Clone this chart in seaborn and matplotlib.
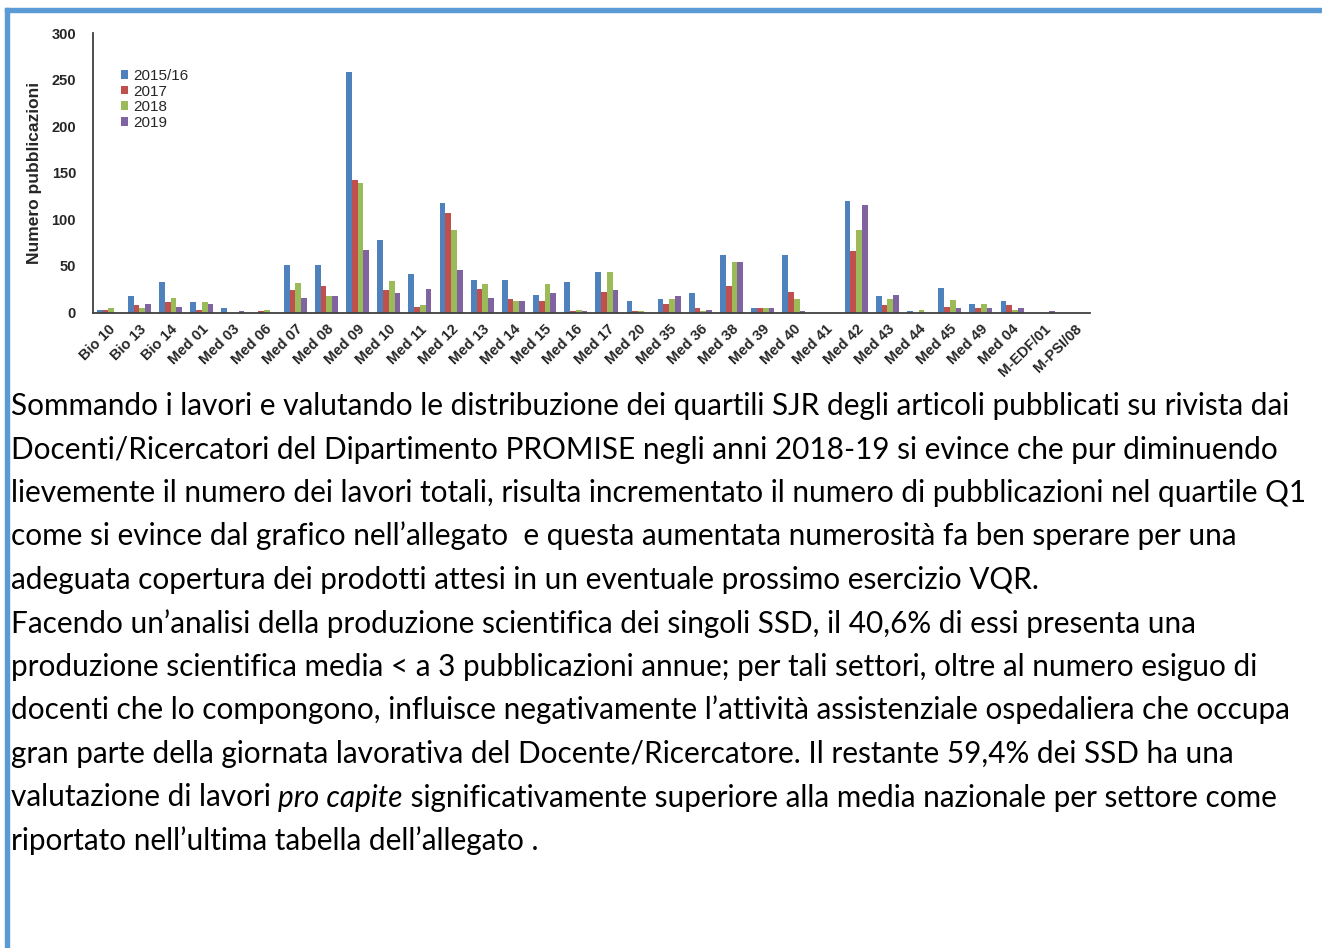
import matplotlib
matplotlib.use("Agg")
import matplotlib.pyplot as plt
from matplotlib.patches import Rectangle
import seaborn as sns
import pandas as pd

categories = ["Bio 10", "Bio 13", "Bio 14", "Med 01", "Med 03", "Med 06", "Med 07", "Med 08",
              "Med 09", "Med 10", "Med 11", "Med 12", "Med 13", "Med 14", "Med 15", "Med 16",
              "Med 17", "Med 20", "Med 35", "Med 36", "Med 38", "Med 39", "Med 40", "Med 41",
              "Med 42", "Med 43", "Med 44", "Med 45", "Med 49", "Med 04", "M-EDF/01", "M-PSI/08"]
years = ["2015/16", "2017", "2018", "2019"]
v2015 = [3, 18, 33, 11, 5, 0, 51, 51, 258, 78, 41, 118, 35, 35, 19, 33,
         44, 12, 14, 21, 62, 5, 62, 0, 120, 18, 2, 26, 9, 12, 0, 0]
v2017 = [3, 8, 11, 3, 0, 2, 24, 28, 142, 24, 6, 107, 25, 14, 12, 2,
         22, 2, 9, 5, 28, 5, 22, 0, 66, 8, 0, 6, 5, 8, 0, 0]
v2018 = [5, 5, 16, 11, 0, 3, 32, 18, 139, 34, 8, 89, 31, 12, 31, 3,
         44, 2, 15, 2, 54, 5, 15, 0, 89, 15, 3, 13, 9, 3, 0, 0]
v2019 = [0, 9, 6, 9, 2, 0, 16, 18, 67, 21, 25, 46, 16, 12, 21, 2,
         24, 0, 18, 3, 54, 5, 2, 0, 115, 19, 0, 5, 5, 5, 2, 0]
yticks = [0, 50, 100, 150, 200, 250, 300]
ylabel = "Numero pubblicazioni"

paragraph = [
    "Sommando i lavori e valutando le distribuzione dei quartili SJR degli articoli pubblicati su rivista dai",
    "Docenti/Ricercatori del Dipartimento PROMISE negli anni 2018-19 si evince che pur diminuendo",
    "lievemente il numero dei lavori totali, risulta incrementato il numero di pubblicazioni nel quartile Q1",
    "come si evince dal grafico nell\u2019allegato  e questa aumentata numerosit\u00e0 fa ben sperare per una",
    "adeguata copertura dei prodotti attesi in un eventuale prossimo esercizio VQR.",
    "Facendo un\u2019analisi della produzione scientifica dei singoli SSD, il 40,6% di essi presenta una",
    "produzione scientifica media < a 3 pubblicazioni annue; per tali settori, oltre al numero esiguo di",
    "docenti che lo compongono, influisce negativamente l\u2019attivit\u00e0 assistenziale ospedaliera che occupa",
    "gran parte della giornata lavorativa del Docente/Ricercatore. Il restante 59,4% dei SSD ha una",
    None,
    "riportato nell\u2019ultima tabella dell\u2019allegato .",
]
line10 = ["valutazione di lavori ", "pro capite",
          " significativamente superiore alla media nazionale per settore come"]

colors = ["#4F81BD", "#C0504D", "#9BBB59", "#8064A2"]

sns.set_style("white")
plt.rcParams["font.family"] = ["Liberation Sans", "DejaVu Sans"]

W, H = 1322, 948
fig = plt.figure(figsize=(W / 100, H / 100), dpi=100)

rows = []
for yr, vals in zip(years, [v2015, v2017, v2018, v2019]):
    for c, v in zip(categories, vals):
        rows.append({"ssd": c, "n": v, "anno": yr})
df = pd.DataFrame(rows)

ax = fig.add_axes([92.7 / W, 1 - 312.5 / H, (1090 - 92.7) / W, (312.5 - 33.3) / H])
sns.barplot(data=df, x="ssd", y="n", hue="anno", palette=colors, width=0.74,
            order=categories, hue_order=years, ax=ax, saturation=1, linewidth=0)

ax.set_xlim(-0.5, len(categories) - 0.5)
ax.set_ylim(0, 300)
ax.set_yticks(yticks)
ax.set_yticklabels([str(t) for t in yticks], fontsize=10.5, fontweight="bold")
ax.set_xticks(range(len(categories)))
ax.set_xticklabels(categories, rotation=45, ha="right", rotation_mode="anchor",
                   fontsize=10.5, fontweight="bold")
ax.set_xticks([i - 0.5 for i in range(len(categories) + 1)], minor=True)
ax.tick_params(axis="x", which="major", length=0, pad=7)
ax.tick_params(axis="x", which="minor", length=4, width=1.2, color="#404040", direction="out")
ax.tick_params(axis="y", length=4, width=1.2, color="#404040", direction="out", pad=8)
ax.set_xlabel("")
ax.set_ylabel(ylabel, fontsize=12.5, fontweight="bold")
ax.yaxis.set_label_coords(-0.051, 0.5)
for s in ["top", "right"]:
    ax.spines[s].set_visible(False)
for s in ["left", "bottom"]:
    ax.spines[s].set_color("#404040")
    ax.spines[s].set_linewidth(1.3)
ax.grid(False)

handles, labels = ax.get_legend_handles_labels()
ax.legend(handles, labels, loc="upper left", bbox_to_anchor=(0.028, 0.872), frameon=False,
          fontsize=11, handlelength=0.5, handleheight=0.5, handletextpad=0.3,
          labelspacing=0.1, borderaxespad=0, borderpad=0)

# document frame lines
fig.patches.append(Rectangle((5 / W, 0), 4 / W, 1 - 8 / H, transform=fig.transFigure,
                             color="#5B9BD5", zorder=10))
fig.patches.append(Rectangle((5 / W, 1 - 12 / H), (1321 - 5) / W, 4 / H, transform=fig.transFigure,
                             color="#5B9BD5", zorder=10))

# body text
body_font = ["Lato", "DejaVu Sans"]
renderer = fig.canvas.get_renderer()
probe = fig.text(0, 0, paragraph[2], fontsize=20, family=body_font)
wprobe = probe.get_window_extent(renderer).width
probe.remove()
fs = 20 * (1311 - 11) / wprobe

x0 = 11 / W
for i, line in enumerate(paragraph):
    yb = 1 - (415 + 43.5 * i) / H
    if line is not None:
        fig.text(x0, yb, line, fontsize=fs, family=body_font, va="baseline", ha="left", color="black")
    else:
        xpix = 11
        for j, part in enumerate(line10):
            t = fig.text(xpix / W, yb, part, fontsize=fs, family=body_font, va="baseline", ha="left",
                         style="italic" if j == 1 else "normal", color="black")
            xpix = t.get_window_extent(renderer).x1

fig.savefig("out.png", dpi=100, facecolor="white")
